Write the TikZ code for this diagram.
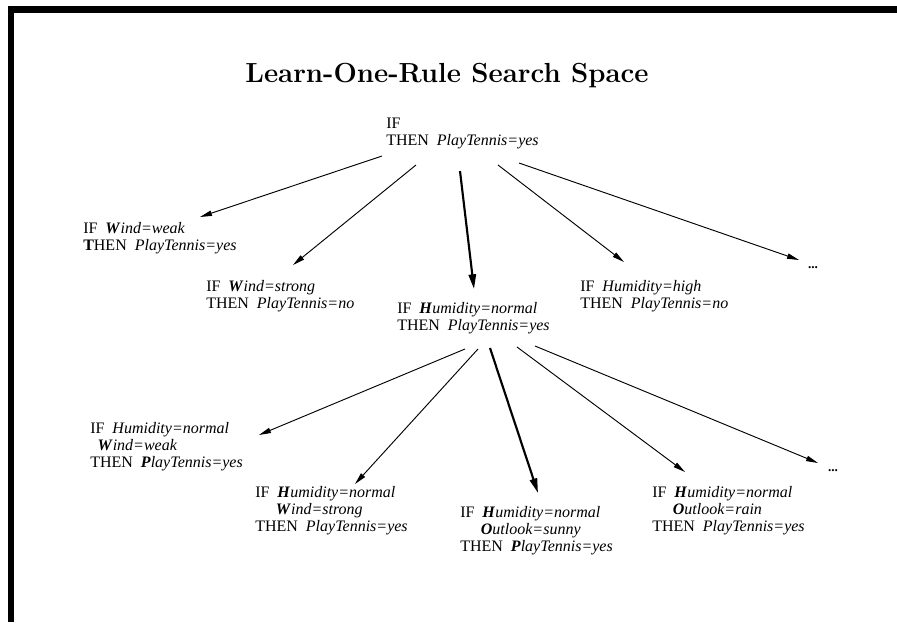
\documentclass[tikz,border=0pt]{standalone}
\usepackage{fontspec}
\newfontfamily\rulefont{Liberation Serif}
\usetikzlibrary{arrows.meta}
% bold italic initial letter, italic remainder
\newcommand{\bi}[1]{\textbf{\textit{#1}}}
\newcommand{\iv}[1]{\textit{#1}}

\begin{document}
\begin{tikzpicture}[x=0.75pt,y=-0.75pt,
  rulebox/.style={anchor=north west, inner sep=0pt, align=left,
    font=\rulefont\fontsize{12}{12.75}\selectfont},
  thinarrow/.style={line width=0.7pt, -{Triangle[length=9pt,width=4pt]}},
  thickarrow/.style={line width=1.6pt, -{Triangle[length=11pt,width=5.5pt]}},
  moredots/.style={inner sep=0pt, font=\rulefont\bfseries\fontsize{10}{10}\selectfont}]
\useasboundingbox (0,0) rectangle (897,622);

% frame bars
\fill (8,6) rectangle (897,13);
\fill (8,6) rectangle (14,622);

% title
\node[anchor=base, inner sep=0pt, font=\bfseries\fontsize{20.7}{25}\selectfont]
  (title) at (447,82) {Learn-One-Rule Search Space};

% root rule
\node[rulebox] (root) at (386,118) {IF\\THEN\ \ \iv{PlayTennis=yes}};

% first level specialisations
\node[rulebox] (n1) at (83,222)
  {IF\ \ \bi{W}\iv{ind=weak}\\\textbf{T}HEN\ \ \iv{PlayTennis=yes}};
\node[rulebox] (n2) at (206,280)
  {IF\ \ \bi{W}\iv{ind=strong}\\THEN\ \ \iv{PlayTennis=no}};
\node[rulebox] (n3) at (397,302)
  {IF\ \ \bi{H}\iv{umidity=normal}\\THEN\ \ \iv{PlayTennis=yes}};
\node[rulebox] (n4) at (580,280)
  {IF\ \ \iv{Humidity=high}\\THEN\ \ \iv{PlayTennis=no}};
\node[moredots] (d1) at (813,268) {...};

% second level specialisations
\node[rulebox] (m1) at (90,422)
  {IF\ \ \iv{Humidity=normal}\\\hspace*{5.5pt}\bi{W}\iv{ind=weak}\\THEN\ \ \bi{P}\iv{layTennis=yes}};
\node[rulebox] (m2) at (255,486)
  {IF\ \ \bi{H}\iv{umidity=normal}\\\hspace*{15.5pt}\bi{W}\iv{ind=strong}\\THEN\ \ \iv{PlayTennis=yes}};
\node[rulebox] (m3) at (460,506)
  {IF\ \ \bi{H}\iv{umidity=normal}\\\hspace*{15.5pt}\bi{O}\iv{utlook=sunny}\\THEN\ \ \bi{P}\iv{layTennis=yes}};
\node[rulebox] (m4) at (652,486)
  {IF\ \ \bi{H}\iv{umidity=normal}\\\hspace*{15.5pt}\bi{O}\iv{utlook=rain}\\THEN\ \ \iv{PlayTennis=yes}};
\node[moredots] (d2) at (833,471) {...};

% arrow end points
\coordinate (r1) at (382,156);  \coordinate (t1) at (200,217);
\coordinate (r2) at (416,165);  \coordinate (t2) at (293,265);
\coordinate (r3) at (460,171);  \coordinate (t3) at (474,289);
\coordinate (r4) at (498,165);  \coordinate (t4) at (624,262);
\coordinate (r5) at (519,163);  \coordinate (t5) at (799,260);

\coordinate (s1) at (465,349);  \coordinate (u1) at (259,435);
\coordinate (s2) at (478,349);  \coordinate (u2) at (355,484);
\coordinate (s3) at (490,348);  \coordinate (u3) at (538,493);
\coordinate (s4) at (517,347);  \coordinate (u4) at (685,472);
\coordinate (s5) at (535,346);  \coordinate (u5) at (818,463);

% root to first level
\draw[thinarrow]  (r1) -- (t1);
\draw[thinarrow]  (r2) -- (t2);
\draw[thickarrow] (r3) -- (t3);
\draw[thinarrow]  (r4) -- (t4);
\draw[thinarrow]  (r5) -- (t5);

% best first-level rule to second level
\draw[thinarrow]  (s1) -- (u1);
\draw[thinarrow]  (s2) -- (u2);
\draw[thickarrow] (s3) -- (u3);
\draw[thinarrow]  (s4) -- (u4);
\draw[thinarrow]  (s5) -- (u5);
\end{tikzpicture}
\end{document}
